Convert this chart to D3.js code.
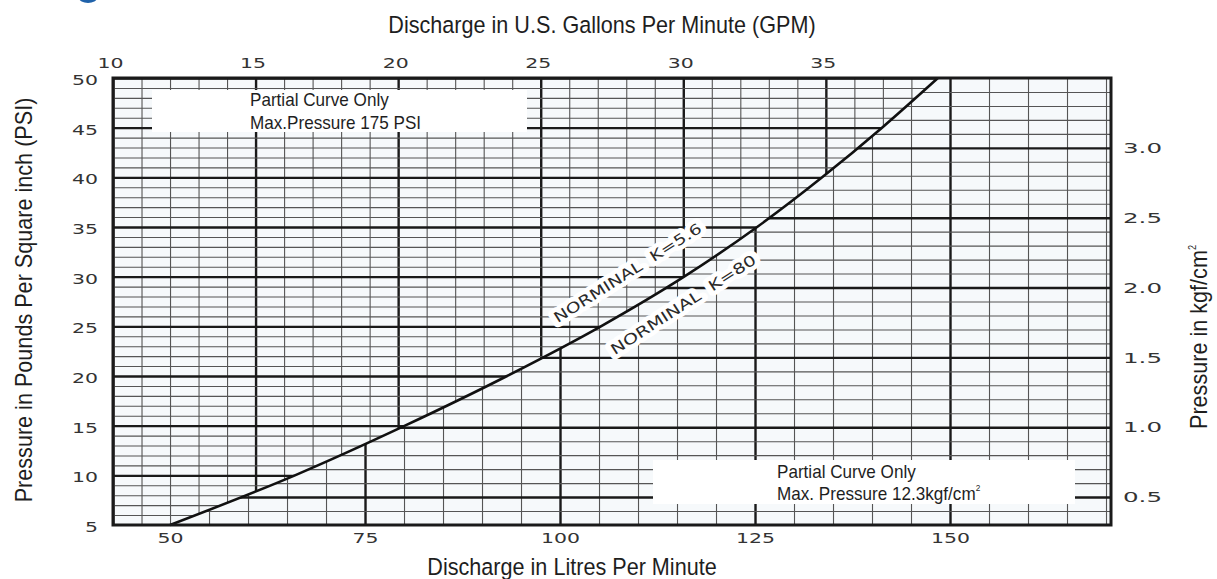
<!DOCTYPE html>
<html><head><meta charset="utf-8">
<script src="https://cdn.jsdelivr.net/npm/d3@7"></script>
<style>body{margin:0;background:#fff}svg{display:block}</style>
</head><body>
<svg id="c" width="1217" height="579"></svg>
<script>
// ---- data ----
const gpmTicks = [10, 15, 20, 25, 30, 35];
const psiTicks = [5, 10, 15, 20, 25, 30, 35, 40, 45, 50];
const lpmTicks = [50, 75, 100, 125, 150];
const kgfTicks = [0.5, 1.0, 1.5, 2.0, 2.5, 3.0];
const curveGpm = [12.00, 16.38, 20.24, 23.82, 27.11, 30.03, 32.59, 34.87, 36.97, 38.93];
const curvePsi = [5, 10, 15, 20, 25, 30, 35, 40, 45, 50];
const curveLabels = ["NORMINAL  K=5.6", "NORMINAL  K=80"];
const titleTop = "Discharge in U.S. Gallons Per Minute (GPM)";
const titleBottom = "Discharge in Litres Per Minute";
const titleLeft = "Pressure in Pounds Per Square inch (PSI)";
const titleRight = "Pressure in kgf/cm";
const noteTop = ["Partial Curve Only", "Max.Pressure 175 PSI"];
const noteBottom = ["Partial Curve Only", "Max. Pressure 12.3kgf/cm"];

// ---- layout ----
const L = 113, R = 1111, T = 78, B = 525;
const svg = d3.select("#c");
const xG = d3.scaleLinear([10, 45], [L, R]);
const xL = d3.scaleLinear([42.69, 170.64], [L, R]);
const yP = d3.scaleLinear([5, 50], [B, T]);
const yK = d3.scaleLinear([0.3, 3.5], [B, T]);

const SANS = "'Liberation Sans', Arial, sans-serif";
const WIDE = "'DejaVu Sans', sans-serif";
const THIN = "#555", THICK = "#1a1a1a";

// blue remnant at top-left
svg.append("ellipse").attr("cx", 88).attr("cy", -2).attr("rx", 9).attr("ry", 5).attr("fill", "#2062aa");

// plot background
svg.append("rect").attr("x", L).attr("y", T).attr("width", R - L).attr("height", B - T).attr("fill", "#f6f9fb");

const pts = curveGpm.map((g, i) => [xG(g), yP(curvePsi[i])]);
const line = d3.line().curve(d3.curveMonotoneX);
const cpath = line(pts);

const defs = svg.append("defs");
defs.append("clipPath").attr("id", "up").append("path").attr("d", cpath + `L${L},${T}L${L},${B}Z`);
defs.append("clipPath").attr("id", "lo").append("path").attr("d", cpath + `L${R},${T}L${R},${B}Z`);

function styleGrid(g, thickTest) {
  g.select(".domain").remove();
  g.selectAll(".tick line")
    .attr("stroke", d => thickTest(d) ? THICK : THIN)
    .attr("stroke-width", d => thickTest(d) ? 2.4 : 1.1);
  g.selectAll(".tick text").remove();
}
const near = (v, m) => Math.abs(v / m - Math.round(v / m)) < 1e-6;

// upper-left grid: GPM / PSI
const up = svg.append("g").attr("clip-path", "url(#up)");
up.append("g").attr("transform", `translate(0,${T})`)
  .call(d3.axisTop(xG).tickValues(d3.range(10, 46)).tickSize(-(B - T)).tickFormat(""))
  .call(g => styleGrid(g, d => near(d, 5)));
up.append("g").attr("transform", `translate(${L},0)`)
  .call(d3.axisLeft(yP).tickValues(d3.range(5, 51)).tickSize(-(R - L)).tickFormat(""))
  .call(g => styleGrid(g, d => near(d, 5)));

// lower-right grid: LPM / kgf
const lo = svg.append("g").attr("clip-path", "url(#lo)");
lo.append("g").attr("transform", `translate(0,${B})`)
  .call(d3.axisBottom(xL).tickValues(d3.range(45, 171, 5)).tickSize(-(B - T)).tickFormat(""))
  .call(g => styleGrid(g, d => near(d, 25)));
lo.append("g").attr("transform", `translate(${R},0)`)
  .call(d3.axisRight(yK).tickValues(d3.range(3, 35).map(v => v / 10)).tickSize(-(R - L)).tickFormat(""))
  .call(g => styleGrid(g, d => near(d, 0.5)));

// white note boxes
svg.append("rect").attr("x", 152).attr("y", 90).attr("width", 375).attr("height", 42).attr("fill", "#fff");
svg.append("rect").attr("x", 653).attr("y", 460).attr("width", 422).attr("height", 44).attr("fill", "#fff");

// curve
svg.append("path").attr("d", cpath).attr("fill", "none").attr("stroke", "#111").attr("stroke-width", 2.6);

// frame
svg.append("rect").attr("x", L).attr("y", T).attr("width", R - L).attr("height", B - T)
  .attr("fill", "none").attr("stroke", THICK).attr("stroke-width", 3);

// curve labels
function curveLabel(text, x, y, ang, len) {
  svg.append("text").attr("transform", `translate(${x},${y}) rotate(${ang})`)
    .attr("font-family", WIDE).attr("font-size", 14.5).attr("fill", "#2a2a2a")
    .attr("stroke", "#fff").attr("stroke-width", 9).attr("stroke-linejoin", "round")
    .attr("paint-order", "stroke").style("white-space", "pre")
    .attr("textLength", len).attr("lengthAdjust", "spacingAndGlyphs")
    .text(text);
}
curveLabel(curveLabels[0], xG(25.6), yP(25.3), -32.5, 172);
curveLabel(curveLabels[1], xG(27.6), yP(22.1), -33, 170);

// text helper (slightly condensed sans)
function txt(x, y, s, size, anchor, rot) {
  return svg.append("text").attr("transform", `translate(${x},${y}) rotate(${rot || 0}) scale(0.92,1)`)
    .attr("font-family", SANS).attr("font-size", size).attr("fill", "#1e1e1e")
    .attr("text-anchor", anchor || "start").text(s);
}
txt(250, 106, noteTop[0], 18.6);
txt(250, 129, noteTop[1], 18.6);
txt(777, 478, noteBottom[0], 18.6);
txt(777, 500, noteBottom[1], 18.6).append("tspan").attr("font-size", 9).attr("dy", -9).text("2");

// titles
txt(602, 33, titleTop, 23.5, "middle");
txt(572, 575, titleBottom, 23.5, "middle");
txt(32, 300, titleLeft, 23.5, "middle", -90);
txt(1207, 337, titleRight, 23.5, "middle", -90).append("tspan").attr("font-size", 10).attr("dy", -11).text("2");

// tick-label axes
function styleTicks(g) {
  g.select(".domain").remove();
  g.selectAll(".tick line").remove();
  g.attr("font-family", WIDE).attr("font-size", 14.5);
  g.selectAll(".tick text").attr("fill", "#333")
    .attr("textLength", function () { return 13 * this.textContent.length; })
    .attr("lengthAdjust", "spacingAndGlyphs");
}
svg.append("g").attr("transform", `translate(0,${T})`)
  .call(d3.axisTop(xG).tickValues(gpmTicks).tickSize(0).tickPadding(10))
  .call(styleTicks).call(g => g.selectAll(".tick text").attr("dx", -3));
svg.append("g").attr("transform", `translate(${L},0)`)
  .call(d3.axisLeft(yP).tickValues(psiTicks).tickSize(0).tickPadding(15))
  .call(styleTicks).call(g => g.selectAll(".tick text").attr("y", 2));
svg.append("g").attr("transform", `translate(0,${B})`)
  .call(d3.axisBottom(xL).tickValues(lpmTicks).tickSize(0).tickPadding(8))
  .call(styleTicks);
svg.append("g").attr("transform", `translate(${R},0)`)
  .call(d3.axisRight(yK).tickValues(kgfTicks).tickFormat(d3.format(".1f")).tickSize(0).tickPadding(12))
  .call(styleTicks);
</script>
</body></html>
